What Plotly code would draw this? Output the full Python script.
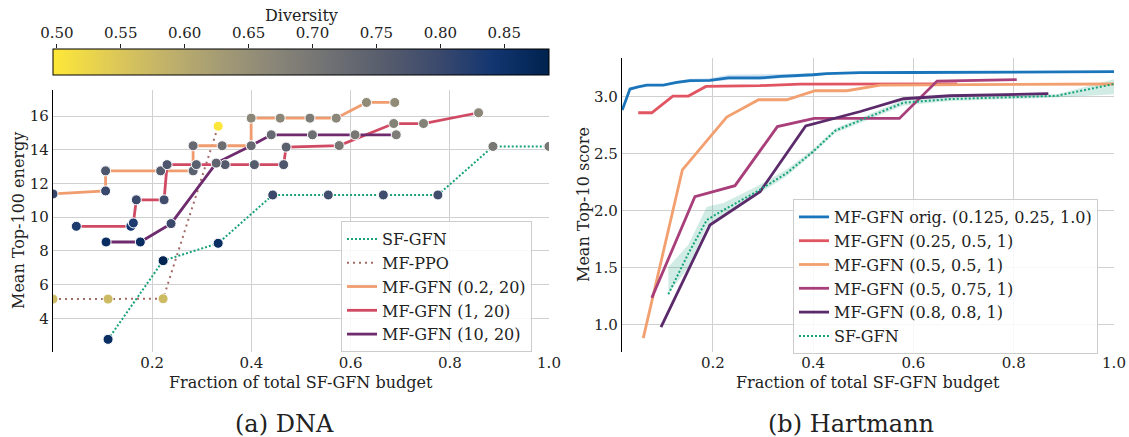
import plotly.graph_objects as go

W, H = 1129, 437
FONT = "DejaVu Serif"

# ---------------- DNA (left) data ----------------
sf_x = [0.111, 0.222, 0.333, 0.443, 0.555, 0.666, 0.776, 0.887, 1.0]
sf_y = [2.75, 7.42, 8.45, 11.32, 11.32, 11.32, 11.32, 14.2, 14.2]
sf_div = [0.86, 0.88, 0.86, 0.80, 0.79, 0.79, 0.79, 0.70, 0.70]

ppo_x = [0.0, 0.111, 0.222, 0.333]
ppo_y = [5.14, 5.14, 5.16, 15.4]
ppo_div = [0.57, 0.57, 0.57, 0.50]

g02_x = [0.0, 0.106, 0.106, 0.217, 0.2825, 0.2825, 0.341, 0.3995, 0.3995, 0.458, 0.518, 0.571, 0.632, 0.689]
g02_y = [11.38, 11.56, 12.75, 12.75, 12.75, 14.24, 14.24, 14.24, 15.88, 15.88, 15.88, 15.88, 16.81, 16.81]
g02_div = [0.80, 0.80, 0.77, 0.76, 0.75, 0.73, 0.72, 0.72, 0.67, 0.67, 0.69, 0.67, 0.66, 0.66]

g1_x = [0.047, 0.157, 0.162, 0.168, 0.224, 0.230, 0.289, 0.347, 0.406, 0.465, 0.470, 0.577, 0.687, 0.747, 0.858]
g1_y = [9.46, 9.46, 9.66, 11.03, 11.03, 13.12, 13.12, 13.12, 13.12, 13.12, 14.16, 14.25, 15.56, 15.56, 16.20]
g1_div = [0.83, 0.84, 0.83, 0.80, 0.79, 0.77, 0.75, 0.76, 0.76, 0.77, 0.75, 0.70, 0.68, 0.68, 0.67]

g10_x = [0.107, 0.176, 0.238, 0.329, 0.3995, 0.440, 0.523, 0.609, 0.692]
g10_y = [8.53, 8.53, 9.62, 13.21, 14.24, 14.89, 14.89, 14.89, 14.89]
g10_div = [0.86, 0.86, 0.80, 0.74, 0.73, 0.73, 0.72, 0.70, 0.69]

left_xticks = [0.2, 0.4, 0.6, 0.8, 1.0]
left_yticks = [4, 6, 8, 10, 12, 14, 16]
div_ticks = [0.50, 0.55, 0.60, 0.65, 0.70, 0.75, 0.80, 0.85]
div_range = [0.497, 0.885]

# ---------------- Hartmann (right) data ----------------
orig_x = [0.019, 0.0345, 0.051, 0.068, 0.101, 0.128, 0.154, 0.194, 0.231, 0.294, 0.334, 0.374, 0.40, 0.427, 0.454, 0.494, 0.6, 0.8, 1.0]
orig_y = [2.88, 3.065, 3.083, 3.10, 3.10, 3.123, 3.138, 3.14, 3.162, 3.162, 3.176, 3.182, 3.19, 3.20, 3.205, 3.208, 3.21, 3.212, 3.217]
orig_lo = [2.88, 3.065, 3.08, 3.095, 3.095, 3.11, 3.125, 3.128, 3.145, 3.145, 3.16, 3.168, 3.178, 3.19, 3.198, 3.203, 3.206, 3.208, 3.212]
orig_hi = [2.88, 3.065, 3.086, 3.105, 3.105, 3.135, 3.155, 3.16, 3.19, 3.192, 3.198, 3.2, 3.205, 3.21, 3.212, 3.213, 3.214, 3.216, 3.222]

r1_x = [0.051, 0.078, 0.12, 0.151, 0.186, 0.294, 0.374, 0.687]
r1_y = [2.857, 2.857, 3.003, 3.003, 3.088, 3.095, 3.108, 3.11]

r2_x = [0.061, 0.139, 0.2275, 0.291, 0.347, 0.404, 0.467, 0.494, 0.534, 1.0]
r2_y = [0.882, 2.356, 2.819, 2.971, 2.971, 3.05, 3.05, 3.068, 3.10, 3.109]

r3_x = [0.078, 0.164, 0.244, 0.3286, 0.402, 0.572, 0.647, 0.806]
r3_y = [1.234, 2.121, 2.218, 2.736, 2.807, 2.807, 3.135, 3.147]

r4_x = [0.0964, 0.194, 0.294, 0.385, 0.494, 0.58, 0.673, 0.869]
r4_y = [0.979, 1.873, 2.165, 2.742, 2.868, 2.98, 3.006, 3.024]

rsf_x = [0.111, 0.151, 0.1876, 0.221, 0.287, 0.347, 0.40, 0.444, 0.494, 0.58, 0.673, 0.886, 1.0]
rsf_y = [1.266, 1.624, 1.917, 2.004, 2.165, 2.327, 2.517, 2.70, 2.79, 2.945, 2.977, 3.006, 3.109]
rsf_lo = [1.27, 1.50, 1.86, 1.95, 2.136, 2.30, 2.50, 2.68, 2.77, 2.92, 2.96, 2.99, 3.02]
rsf_hi = [1.506, 1.70, 2.033, 2.066, 2.21, 2.36, 2.54, 2.72, 2.81, 2.97, 3.00, 3.02, 3.15]

right_xticks = [0.2, 0.4, 0.6, 0.8, 1.0]
right_yticks = [1.0, 1.5, 2.0, 2.5, 3.0]

# ---------------- colours / styles ----------------
C_GREEN = "#17a27a"
C_BROWN = "#a26a64"
C_ORANGE = "#f19c6f"
C_CRIMSON = "#d14a64"
C_PURPLE = "#6e2b6e"
C_BLUE = "#1b75bb"
C_RED = "#e15562"
C_ORANGE2 = "#f2a070"
C_MAGENTA = "#a83f7a"
C_PURPLE2 = "#5b2a6b"
DOT_GREEN = "2px,2px"
DOT_BROWN = "2px,4px"

fig = go.Figure()

# ---- left lines
left_series = [
    ("SF-GFN", sf_x, sf_y, sf_div, C_GREEN, DOT_GREEN, 2),
    ("MF-PPO", ppo_x, ppo_y, ppo_div, C_BROWN, DOT_BROWN, 2),
    ("MF-GFN (0.2, 20)", g02_x, g02_y, g02_div, C_ORANGE, "solid", 2.8),
    ("MF-GFN (1, 20)", g1_x, g1_y, g1_div, C_CRIMSON, "solid", 2.8),
    ("MF-GFN (10, 20)", g10_x, g10_y, g10_div, C_PURPLE, "solid", 2.8),
]
for i, (name, xs, ys, ds, col, dash, w) in enumerate(left_series):
    fig.add_trace(go.Scatter(x=xs, y=ys, mode="lines", name=name,
                             line=dict(color=col, width=w, dash=dash),
                             legend="legend", legendgroup="L%d" % i,
                             xaxis="x", yaxis="y"))
for i, (name, xs, ys, ds, col, dash, w) in enumerate(left_series):
    fig.add_trace(go.Scatter(x=xs, y=ys, mode="markers", showlegend=False,
                             marker=dict(size=10, color=ds, coloraxis="coloraxis",
                                         line=dict(color="white", width=1)),
                             xaxis="x", yaxis="y"))

# ---- right bands
fig.add_trace(go.Scatter(x=orig_x + orig_x[::-1], y=orig_hi + orig_lo[::-1],
                         fill="toself", fillcolor="rgba(27,117,187,0.2)",
                         line=dict(width=0), mode="lines", showlegend=False,
                         hoverinfo="skip", xaxis="x2", yaxis="y2"))
fig.add_trace(go.Scatter(x=rsf_x + rsf_x[::-1], y=rsf_hi + rsf_lo[::-1],
                         fill="toself", fillcolor="rgba(23,162,122,0.2)",
                         line=dict(width=0), mode="lines", showlegend=False,
                         hoverinfo="skip", xaxis="x2", yaxis="y2"))

right_series = [
    ("MF-GFN orig. (0.125, 0.25, 1.0)", orig_x, orig_y, C_BLUE, "solid", 2.8),
    ("MF-GFN (0.25, 0.5, 1)", r1_x, r1_y, C_RED, "solid", 2.8),
    ("MF-GFN (0.5, 0.5, 1)", r2_x, r2_y, C_ORANGE2, "solid", 2.8),
    ("MF-GFN (0.5, 0.75, 1)", r3_x, r3_y, C_MAGENTA, "solid", 2.8),
    ("MF-GFN (0.8, 0.8, 1)", r4_x, r4_y, C_PURPLE2, "solid", 2.8),
    ("SF-GFN", rsf_x, rsf_y, C_GREEN, DOT_GREEN, 2),
]
for i, (name, xs, ys, col, dash, w) in enumerate(right_series):
    fig.add_trace(go.Scatter(x=xs, y=ys, mode="lines", name=name,
                             line=dict(color=col, width=w, dash=dash),
                             legend="legend2", legendgroup="R%d" % i,
                             xaxis="x2", yaxis="y2"))

# ---- helper trace so the colour-bar axis exists
fig.add_trace(go.Scatter(x=[None], y=[None], mode="markers", showlegend=False,
                         hoverinfo="skip", xaxis="x3", yaxis="y3"))

# ---------------- layout ----------------
def px_x(p):
    return p / W

def px_y(p):
    return 1 - p / H

grid = "#d0d0d0"
tickfont = dict(family=FONT, size=15, color="#222")

L_dom = [px_x(53), px_x(549)]
R_dom = [px_x(622), px_x(1114)]

common = dict(automargin=False, zeroline=False, ticks="", tickfont=tickfont)

fig.update_layout(
    template="none",
    width=W, height=H,
    margin=dict(l=0, r=0, t=0, b=0, pad=0),
    paper_bgcolor="white", plot_bgcolor="white",
    font=dict(family=FONT, size=15, color="#222"),
    xaxis=dict(domain=L_dom, anchor="y", range=[0, 1.0], tickvals=left_xticks,
               ticktext=["%.1f" % v for v in left_xticks], showgrid=True, gridcolor=grid,
               gridwidth=1.2, showline=False, **common),
    yaxis=dict(domain=[px_y(352), px_y(90)], anchor="x", range=[2.0, 17.55],
               tickvals=left_yticks, showgrid=True, gridcolor=grid, gridwidth=1.2,
               showline=True, linecolor="black", linewidth=1.2, **common),
    xaxis2=dict(domain=R_dom, anchor="y2", range=[0.0186, 1.0], tickvals=right_xticks,
                ticktext=["%.1f" % v for v in right_xticks], showgrid=True, gridcolor=grid,
                gridwidth=1.2, showline=False, **common),
    yaxis2=dict(domain=[px_y(352), px_y(58)], anchor="x2", range=[0.76, 3.337],
                tickvals=right_yticks, ticktext=["%.1f" % v for v in right_yticks],
                showgrid=True, gridcolor=grid, gridwidth=1.2,
                showline=True, linecolor="black", linewidth=1.2, **common),
    xaxis3=dict(domain=L_dom, anchor="y3", side="top", range=div_range,
                tickvals=div_ticks, ticktext=["%.2f" % v for v in div_ticks],
                ticks="outside", ticklen=4, tickcolor="#222", showgrid=False,
                zeroline=False, showline=False, tickfont=tickfont, fixedrange=True,
                automargin=False),
    yaxis3=dict(domain=[px_y(75), px_y(49)], anchor="x3", visible=False,
                range=[0, 1], fixedrange=True, automargin=False),
    coloraxis=dict(
        cmin=div_range[0], cmax=div_range[1], colorscale="cividis_r",
        colorbar=dict(orientation="h", x=(L_dom[0] + L_dom[1]) / 2, xanchor="center",
                      y=px_y(49), yanchor="top", len=L_dom[1] - L_dom[0],
                      lenmode="fraction", thickness=26, thicknessmode="pixels",
                      xpad=0, ypad=0, showticklabels=False, ticks="",
                      outlinecolor="black", outlinewidth=1),
    ),
    legend=dict(x=px_x(341), y=px_y(221), xanchor="left", yanchor="top",
                bgcolor="rgba(255,255,255,0.85)", bordercolor="#cccccc", borderwidth=1,
                font=dict(family=FONT, size=16, color="#222"), tracegroupgap=0),
    legend2=dict(x=px_x(793), y=px_y(199), xanchor="left", yanchor="top",
                 bgcolor="rgba(255,255,255,0.85)", bordercolor="#cccccc", borderwidth=1,
                 font=dict(family=FONT, size=16, color="#222"), tracegroupgap=0),
    showlegend=True,
)

def note(text, xp, yp, size, angle=0):
    return dict(text=text, x=px_x(xp), y=px_y(yp), xref="paper", yref="paper",
                xanchor="center", yanchor="middle", showarrow=False, textangle=angle,
                font=dict(family=FONT, size=size, color="#222"))

ann = [
    note("Diversity", 301, 16, 16),
    note("Mean Top-100 energy", 18, 221, 16, -90),
    note("Mean Top-10 score", 583, 204, 16, -90),
    note("Fraction of total SF-GFN budget", 301, 382, 16),
    note("Fraction of total SF-GFN budget", 868, 382, 16),
    note("(a) DNA", 284.5, 424, 24),
    note("(b) Hartmann", 851, 424, 24),
]
fig.update_layout(annotations=ann)

fig.write_html("out.html", config={"displayModeBar": False},
               post_script="document.body.style.margin='0';document.body.style.padding='0';")
